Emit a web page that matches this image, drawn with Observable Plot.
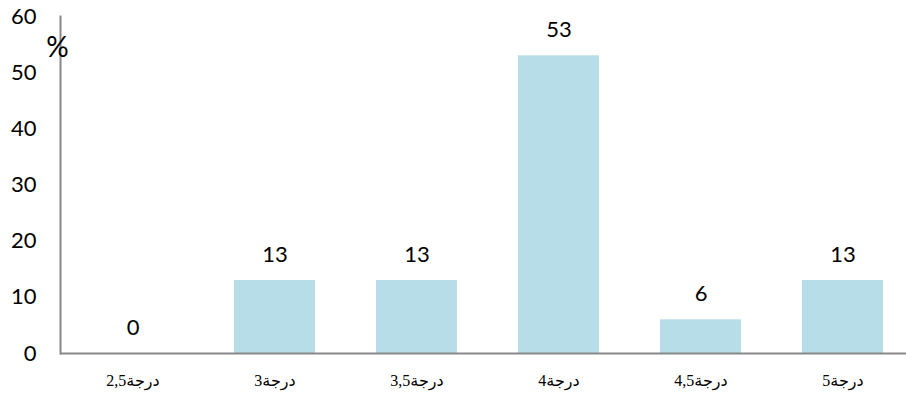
<!DOCTYPE html>
<html>
<head>
<meta charset="utf-8">
<script src="https://cdn.jsdelivr.net/npm/d3@7"></script>
<script src="https://cdn.jsdelivr.net/npm/@observablehq/plot@0.6"></script>
<style>
  html, body { margin: 0; padding: 0; background: #fff; }
</style>
</head>
<body>
<div id="chart"></div>
<script>
const categories = ["درجة2,5", "درجة3", "درجة3,5", "درجة4", "درجة4,5", "درجة5"];
const values = [0, 13, 13, 53, 6, 13];
const yTicks = [0, 10, 20, 30, 40, 50, 60];
const unitLabel = "%";

const data = categories.map((c, i) => ({category: c, value: values[i]}));

const chart = Plot.plot({
  width: 906,
  height: 400,
  marginLeft: 60,
  marginRight: 0,
  marginTop: 16,
  marginBottom: 47,
  style: {fontFamily: "Lato, sans-serif", background: "#fff", color: "#000"},
  x: {domain: categories, range: [60, 914], paddingInner: 0.43, paddingOuter: 0.215, label: null},
  y: {domain: [0, 60], ticks: yTicks, label: null},
  marks: [
    Plot.barY(data, {x: "category", y: "value", fill: "#b7dde8"}),
    Plot.text(data, {x: "category", y: "value", text: d => String(d.value), dy: -26, lineAnchor: "middle", fontSize: 22, fill: "#000"}),
    Plot.axisY({ticks: yTicks, tickSize: 0, tickPadding: 24, fontSize: 22, fill: "#000", label: null}),
    Plot.axisX({tickSize: 0, tickPadding: 21, fontSize: 16, fontFamily: "Liberation Serif, DejaVu Sans, serif", fill: "#000", label: null}),
    Plot.ruleY([0], {stroke: "#888", strokeWidth: 2}),
    Plot.frame({anchor: "left", stroke: "#888", strokeWidth: 2}),
    Plot.text([unitLabel], {frameAnchor: "top-left", text: d => d, dx: -3, dy: 32, fontSize: 28, textAnchor: "middle", lineAnchor: "middle", fill: "#000"})
  ]
});
document.getElementById("chart").appendChild(chart);
</script>
</body>
</html>
